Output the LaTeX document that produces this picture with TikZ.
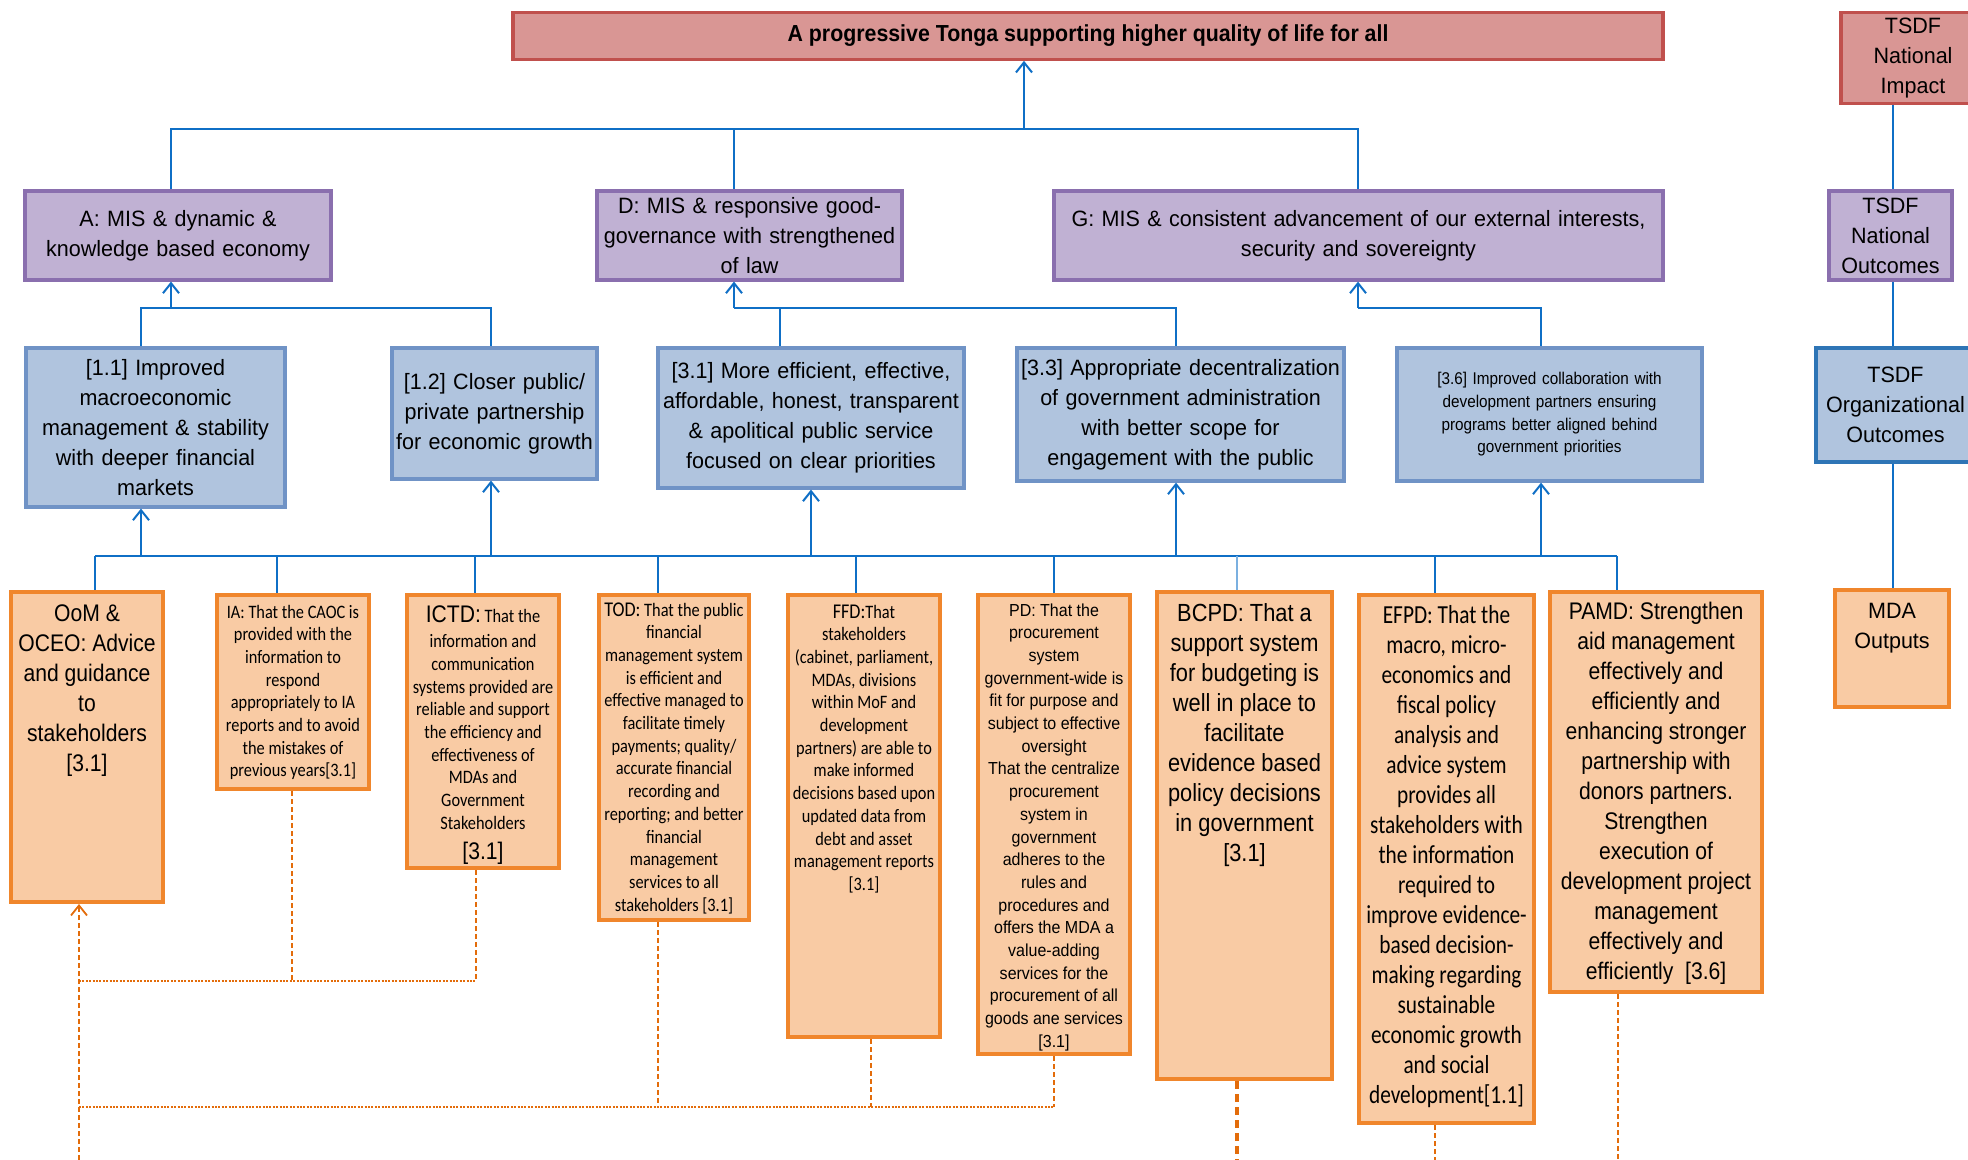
\documentclass[tikz,border=0pt]{standalone}
\usepackage{fontspec}
\usetikzlibrary{arrows.meta}
\setmainfont{Liberation Sans}
\newfontfamily\fA[FakeStretch=0.97]{Liberation Sans}
\newfontfamily\fT[FakeStretch=0.92]{Liberation Sans}
\newfontfamily\fB[FakeStretch=0.88]{Liberation Sans}
\newfontfamily\fC[FakeStretch=0.92]{Liberation Sans}
\newfontfamily\fS[FakeStretch=0.90]{Liberation Sans}
\newfontfamily\fD[FakeStretch=0.86]{Carlito}
\newfontfamily\fE[FakeStretch=0.82]{Carlito}
\definecolor{tredfill}{HTML}{D99694}
\definecolor{tred}{HTML}{C0504D}
\definecolor{pfill}{HTML}{C0B1D3}
\definecolor{pline}{HTML}{8A6FAE}
\definecolor{bfill}{HTML}{B0C4DE}
\definecolor{bline}{HTML}{7093C6}
\definecolor{oline}{HTML}{2E75B6}
\definecolor{ofill}{HTML}{F9CBA4}
\definecolor{oedge}{HTML}{F0862C}
\definecolor{cblue}{HTML}{0F6FC6}
\definecolor{dorange}{HTML}{E36C0A}
\newcommand{\obx}[4]{\parbox[c][#2][t]{#1}{\centering\rule{0pt}{#3}#4\par}}
\tikzset{
  conn/.style={draw=cblue, line width=1pt},
  connlight/.style={draw=cblue!55, line width=0.7pt},
  arr/.style={conn, -{Straight Barb[length=5pt,width=8pt]}},
  titlebox/.style={draw=tred, fill=tredfill, line width=1.6pt, inner sep=0pt, align=center},
  pbox/.style={draw=pline, fill=pfill, line width=1.6pt, inner sep=0pt, align=center,
    font=\fA\fontsize{11.1}{15}\selectfont},
  bbox/.style={draw=bline, fill=bfill, line width=1.6pt, inner sep=0pt, align=center,
    font=\fA\fontsize{11.1}{15}\selectfont},
  obox/.style={draw=oedge, fill=ofill, line width=2pt, inner sep=0pt},
  odash/.style={draw=dorange, line width=0.9pt, dash pattern=on 2.5pt off 1.5pt},
  odot/.style={draw=dorange, line width=1.4pt, dash pattern=on 1pt off 0.7pt},
  odashB/.style={draw=dorange, line width=1.6pt, dash pattern=on 4pt off 2.5pt},
}
\begin{document}
\begin{tikzpicture}[x=0.5pt,y=-0.5pt]
\useasboundingbox (0,0) rectangle (1968,1160);
\clip (0,0) rectangle (1968,1160);
\fill[white] (0,0) rectangle (1968,1160);

% ---------- top ----------
\node[titlebox, minimum width=575pt, minimum height=23.25pt,
  font=\fT\bfseries\fontsize{11.6}{14}\selectfont] (title) at (1088,36)
  {A progressive Tonga supporting higher quality of life for all};
\node[titlebox, minimum width=72pt, minimum height=45.25pt, text width=72pt,
  font=\fA\fontsize{11.1}{15}\selectfont] (imp) at (1913,58) {TSDF\\National\\Impact};

% ---------- level 1 ----------
\node[pbox, minimum width=153pt, minimum height=44.5pt, text width=153pt] (A) at (178,235.5)
  {A: MIS \& dynamic \&\\knowledge based economy};
\node[pbox, minimum width=152.5pt, minimum height=44.5pt, text width=152.5pt] (D) at (749.5,235.5)
  {D: MIS \& responsive good-\\governance with strengthened\\of law};
\node[pbox, minimum width=304.5pt, minimum height=44.5pt, text width=304.5pt] (G) at (1358.5,235.5)
  {G: MIS \& consistent advancement of our external interests,\\security and sovereignty};
\node[pbox, minimum width=61.5pt, minimum height=44.5pt, text width=61.5pt] (no) at (1890.5,235.5)
  {TSDF\\National\\Outcomes};

% ---------- level 2 ----------
\node[bbox, minimum width=129.5pt, minimum height=79.5pt, text width=129.5pt] (b11) at (155.5,427.5)
  {[1.1] Improved\\macroeconomic\\management \& stability\\with deeper financial\\markets};
\node[bbox, minimum width=102.5pt, minimum height=65.5pt, text width=102.5pt] (b12) at (494.5,413.5)
  {[1.2] Closer public/\\private partnership\\for economic growth};
\node[bbox, minimum width=153pt, minimum height=70pt, text width=153pt] (b31) at (811,418)
  {[3.1] More efficient, effective,\\affordable, honest, transparent\\\& apolitical public service\\focused on clear priorities};
\node[bbox, minimum width=163.5pt, minimum height=66.5pt, text width=163.5pt] (b33) at (1180.5,414.5)
  {[3.3] Appropriate decentralization\\of government administration\\with better scope for\\engagement with the public};
\node[bbox, minimum width=152.5pt, minimum height=66.5pt, text width=152.5pt,
  font=\fS\fontsize{8.5}{11.3}\selectfont] (b36) at (1549.5,414.5)
  {[3.6] Improved collaboration with\\development partners ensuring\\programs better aligned behind\\government priorities};
\node[bbox, draw=oline, minimum width=79.5pt, minimum height=57pt, text width=79.5pt] (org) at (1895.5,405)
  {TSDF\\Organizational\\Outcomes};

% ---------- level 3 ----------
\node[obox] (oom) at (87,747) {\fB\fontsize{12}{15}\selectfont
  \obx{76pt}{155pt}{14.5pt}{OoM \&\\OCEO: Advice\\and guidance\\to\\stakeholders\\{}[3.1]}};
\node[obox] (ia) at (293,692) {\fD\fontsize{9.5}{11.35}\selectfont
  \obx{76pt}{97pt}{11.5pt}{IA: That the CAOC is\\provided with the\\information to\\respond\\appropriately to IA\\reports and to avoid\\the mistakes of\\previous years[3.1]}};
\node[obox] (ictd) at (483,731.5) {\fD\fontsize{9.5}{11.35}\selectfont
  \obx{76pt}{136.5pt}{13.5pt}{{\fB\fontsize{12}{15}\selectfont ICTD:} That the\\[1.5pt]information and\\communication\\systems provided are\\reliable and support\\the efficiency and\\effectiveness of\\MDAs and\\Government\\Stakeholders\\[3.5pt]{\fB\fontsize{12}{15}\selectfont [3.1]}}};
\node[obox] (tod) at (674,757.5) {\fD\fontsize{9.5}{11.35}\selectfont
  \obx{75pt}{162.5pt}{10.5pt}{{\fontsize{10.5}{11.35}\selectfont TOD:} That the public\\financial\\management system\\is efficient and\\effective managed to\\facilitate timely\\payments; quality/\\accurate financial\\recording and\\reporting; and better\\financial\\management\\services to all\\stakeholders [3.1]}};
\node[obox] (ffd) at (864,816) {\fD\fontsize{9.5}{11.35}\selectfont
  \obx{76pt}{221pt}{11.5pt}{{\fontsize{10.5}{11.35}\selectfont FFD:}That\\stakeholders\\(cabinet, parliament,\\MDAs, divisions\\within MoF and\\development\\partners) are able to\\make informed\\decisions based upon\\updated data from\\debt and asset\\management reports\\{}[3.1]}};
\node[obox] (pd) at (1054,824.5) {\fC\fontsize{8.7}{11.35}\selectfont
  \obx{76pt}{229.5pt}{10.5pt}{PD: That the\\procurement\\system\\government-wide is\\fit for purpose and\\subject to effective\\oversight\\That the centralize\\procurement\\system in\\government\\adheres to the\\rules and\\procedures and\\offers the MDA a\\value-adding\\services for the\\procurement of all\\goods ane services\\{}[3.1]}};
\node[obox] (bcpd) at (1244.5,835.5) {\fB\fontsize{12.4}{15}\selectfont
  \obx{87.5pt}{243.5pt}{14.5pt}{BCPD: That a\\support system\\for budgeting is\\well in place to\\facilitate\\evidence based\\policy decisions\\in government\\{}[3.1]}};
\node[obox] (efpd) at (1446.5,859) {\fE\fontsize{13}{15}\selectfont
  \obx{87.5pt}{264pt}{14pt}{EFPD: That the\\macro, micro-\\economics and\\fiscal policy\\analysis and\\advice system\\provides all\\stakeholders with\\the information\\required to\\improve evidence-\\based decision-\\making regarding\\sustainable\\economic growth\\and social\\development[1.1]}};
\node[obox] (pamd) at (1656,792) {\fB\fontsize{12}{15}\selectfont
  \obx{106pt}{200pt}{13.5pt}{PAMD: Strengthen\\aid management\\effectively and\\efficiently and\\enhancing stronger\\partnership with\\donors partners.\\Strengthen\\execution of\\development project\\management\\effectively and\\efficiently~~[3.6]}};
\node[obox] (mda) at (1892,648.5) {\fA\fontsize{11.1}{15}\selectfont
  \obx{57pt}{58.5pt}{14pt}{MDA\\Outputs}};

% ---------- connectors: level 1 to title ----------
\coordinate (tb) at (1024,129);
\coordinate (la) at (171,129);
\coordinate (ld) at (734,129);
\coordinate (lg) at (1358,129);
\draw[conn] (la |- A.north) -- (la) -- (lg) -- (lg |- G.north);
\draw[conn] (ld) -- (ld |- D.north);
\draw[arr] (tb) -- (tb |- title.south);

% ---------- level 2 to level 1 ----------
\coordinate (qa) at (171,308);
\coordinate (q11) at (141,308);
\coordinate (q12) at (491,308);
\draw[conn] (q11 |- b11.north) -- (q11) -- (q12) -- (q12 |- b12.north);
\draw[arr] (qa) -- (qa |- A.south);
\coordinate (qd) at (734,308);
\coordinate (q31) at (780,308);
\coordinate (q33) at (1176,308);
\draw[conn] (qd) -- (q33) -- (q33 |- b33.north);
\draw[conn] (q31 |- b31.north) -- (q31);
\draw[arr] (qd) -- (qd |- D.south);
\coordinate (qg) at (1358,308);
\coordinate (q36) at (1541,308);
\draw[conn] (qg) -- (q36) -- (q36 |- b36.north);
\draw[arr] (qg) -- (qg |- G.south);

% ---------- level 3 to level 2 ----------
\coordinate (r1) at (95,556);
\coordinate (r2) at (277,556);
\coordinate (r3) at (475,556);
\coordinate (r4) at (658,556);
\coordinate (r5) at (856,556);
\coordinate (r6) at (1054,556);
\coordinate (r7) at (1237,556);
\coordinate (r8) at (1435,556);
\coordinate (r9) at (1617,556);
\draw[conn] (r1) -- (r9);
\draw[conn] (r1) -- (r1 |- oom.north);
\draw[conn] (r2) -- (r2 |- ia.north);
\draw[conn] (r3) -- (r3 |- ictd.north);
\draw[conn] (r4) -- (r4 |- tod.north);
\draw[conn] (r5) -- (r5 |- ffd.north);
\draw[conn] (r6) -- (r6 |- pd.north);
\draw[connlight] (r7) -- (r7 |- bcpd.north);
\draw[conn] (r8) -- (r8 |- efpd.north);
\draw[conn] (r9) -- (r9 |- pamd.north);
\coordinate (s11) at (141,556);
\coordinate (s12) at (491,556);
\coordinate (s31) at (811,556);
\coordinate (s33) at (1176,556);
\coordinate (s36) at (1541,556);
\draw[arr] (s11) -- (s11 |- b11.south);
\draw[arr] (s12) -- (s12 |- b12.south);
\draw[arr] (s31) -- (s31 |- b31.south);
\draw[arr] (s33) -- (s33 |- b33.south);
\draw[arr] (s36) -- (s36 |- b36.south);

% ---------- legend column ----------
\coordinate (tx) at (1893,0);
\draw[conn] (tx |- imp.south) -- (tx |- no.north);
\draw[conn] (tx |- no.south) -- (tx |- org.north);
\draw[conn] (tx |- org.south) -- (tx |- mda.north);

% ---------- dashed feedback lines ----------
\coordinate (u0) at (79,1160);
\draw[odash, -{Straight Barb[length=5pt,width=8pt]}] (u0) -- (u0 |- oom.south);
\coordinate (h1L) at (79,981);
\coordinate (h1m) at (292,981);
\coordinate (h1R) at (476,981);
\draw[odot] (h1L) -- (h1R);
\draw[odash] (h1m |- ia.south) -- (h1m);
\draw[odash] (h1R |- ictd.south) -- (h1R);
\coordinate (h2L) at (79,1107);
\coordinate (h2a) at (658,1107);
\coordinate (h2b) at (871,1107);
\coordinate (h2R) at (1054,1107);
\draw[odot] (h2L) -- (h2R);
\draw[odash] (h2a |- tod.south) -- (h2a);
\draw[odash] (h2b |- ffd.south) -- (h2b);
\draw[odash] (h2R |- pd.south) -- (h2R);
\coordinate (v1) at (1237,1160);
\coordinate (v2) at (1435,1160);
\coordinate (v3) at (1618,1160);
\draw[odashB] (v1 |- bcpd.south) -- (v1);
\draw[odash] (v2 |- efpd.south) -- (v2);
\draw[odash] (v3 |- pamd.south) -- (v3);
\end{tikzpicture}
\end{document}
